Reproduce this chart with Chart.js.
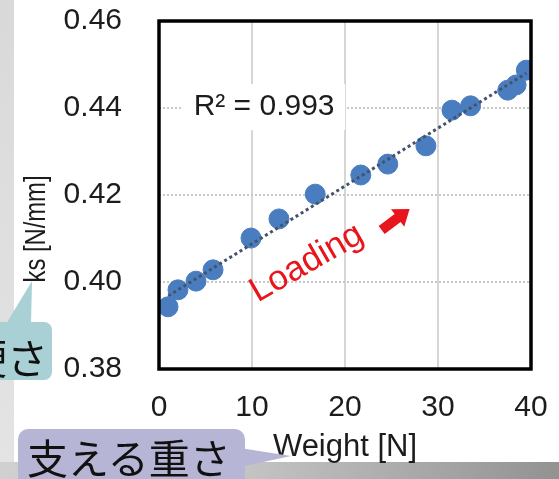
<!DOCTYPE html>
<html>
<head>
<meta charset="utf-8">
<script src="https://cdn.jsdelivr.net/npm/chart.js@4.4.0/dist/chart.umd.min.js"></script>
<style>
  html, body { margin: 0; padding: 0; width: 559px; height: 479px; overflow: hidden; background: #fff; }
  #wrap { position: relative; width: 559px; height: 479px; }
  .strip { position: absolute; left: 0; top: 0; width: 14px; height: 479px; background: linear-gradient(#d9d9d9, #e4e4e4); }
  .bar { position: absolute; left: 0; top: 462px; width: 559px; height: 17px; background: linear-gradient(to right, #d0d0d0, #c3c3c3 45%, #929292); }
  #chart { position: absolute; left: 0; top: 0; }
  .bubble { position: absolute; font-family: "Noto Sans CJK JP", sans-serif; font-size: 41px; line-height: 41px; color: #111; white-space: nowrap; }
  svg.ptr { position: absolute; left: 0; top: 0; }
</style>
</head>
<body>
<div id="wrap">
  <div class="strip"></div>
  <div class="bar"></div>
  <canvas id="chart" width="559" height="479"></canvas>
  <svg class="ptr" width="559" height="479">
    <polygon points="240,448 291,456 240,467" fill="#b6b5d6"/>
    <polygon points="6,324 32,281 31,324" fill="#a9d1d5"/>
  </svg>
  <div class="bubble" style="left:18px; top:429px; width:227px; height:60px; border-radius:10px; background:#b6b5d6;">
    <span style="position:absolute; left:9px; top:7px;">支える重さ</span>
  </div>
  <div class="bubble" style="left:-20px; top:322px; width:72px; height:58px; border-radius:8px; background:#a9d1d5; overflow:hidden;">
    <span style="position:absolute; right:4px; top:14px;">硬さ</span>
  </div>
</div>
<script>
// measured points
const weight = [0.97, 2.04, 3.98, 5.81, 9.89, 12.9, 16.8, 21.7, 24.6, 28.7, 31.5, 33.5, 37.5, 38.4, 39.5];
const ks = [0.3943, 0.3982, 0.4002, 0.4028, 0.4101, 0.4145, 0.4202, 0.4246, 0.4271, 0.4313, 0.4395, 0.4405, 0.4441, 0.4453, 0.4487];

// linear trendline ends
const trendWeight = [1, 39.5];
const trendKs = [0.3968, 0.4480];

const xTicks = [0, 10, 20, 30, 40];
const xTickLabels = ['0', '10', '20', '30', '40'];
const yTicks = [0.38, 0.40, 0.42, 0.44, 0.46];
const yTickLabels = ['0.38', '0.40', '0.42', '0.44', '0.46'];

const xTitle = 'Weight [N]';
const yTitle = 'ks [N/mm]';
const r2Label = 'R² = 0.993';
const loadingLabel = 'Loading';

const font = '"Liberation Sans", Arial, sans-serif';
const clear = 'rgba(0,0,0,0)';

const extras = {
  id: 'extras',
  beforeDatasetsDraw(chart) {
    const { ctx, scales: { x, y } } = chart;
    const cx = x.getPixelForValue(11.3), cy = y.getPixelForValue(0.4402);
    ctx.save();
    ctx.fillStyle = '#fff';
    ctx.fillRect(cx - 81, cy - 23, 162, 46);
    ctx.fillStyle = '#1c1c1c';
    ctx.font = '30px ' + font;
    ctx.textAlign = 'center';
    ctx.textBaseline = 'middle';
    ctx.fillText(r2Label, cx, cy);
    ctx.restore();
  },
  afterDraw(chart) {
    const { ctx, chartArea: a, scales: { x, y } } = chart;
    ctx.save();
    // plot frame
    ctx.strokeStyle = '#000';
    ctx.lineWidth = 3.5;
    ctx.strokeRect(a.left, a.top, a.right - a.left, a.bottom - a.top);

    // Loading + arrow
    ctx.fillStyle = '#e8151c';
    ctx.save();
    ctx.translate(x.getPixelForValue(15.9), y.getPixelForValue(0.4043));
    ctx.rotate(-30 * Math.PI / 180);
    ctx.font = '35px ' + font;
    ctx.textAlign = 'center';
    ctx.textBaseline = 'middle';
    ctx.fillText(loadingLabel, 0, 0);
    ctx.restore();

    ctx.save();
    ctx.translate(x.getPixelForValue(25.4), y.getPixelForValue(0.4143));
    ctx.rotate(-37 * Math.PI / 180);
    ctx.beginPath();
    ctx.moveTo(-17, -5);
    ctx.lineTo(3, -5);
    ctx.lineTo(3, -11);
    ctx.lineTo(18, 0);
    ctx.lineTo(3, 11);
    ctx.lineTo(3, 5);
    ctx.lineTo(-17, 5);
    ctx.closePath();
    ctx.fill();
    ctx.restore();

    // y axis title
    ctx.save();
    ctx.translate(37, 229);
    ctx.rotate(-Math.PI / 2);
    ctx.scale(0.82, 1);
    ctx.fillStyle = '#1c1c1c';
    ctx.font = '29px ' + font;
    ctx.textAlign = 'center';
    ctx.textBaseline = 'middle';
    ctx.fillText(yTitle, 0, 0);
    ctx.restore();
    ctx.restore();
  }
};

new Chart(document.getElementById('chart'), {
  type: 'scatter',
  data: {
    datasets: [
      {
        type: 'line',
        data: trendWeight.map((w, i) => ({ x: w, y: trendKs[i] })),
        borderColor: '#42536b',
        borderWidth: 3,
        borderDash: [3, 3],
        pointRadius: 0,
        fill: false,
        order: 0
      },
      {
        data: weight.map((w, i) => ({ x: w, y: ks[i] })),
        backgroundColor: '#4a7dc0',
        borderColor: '#4a7dc0',
        borderWidth: 1,
        pointRadius: 10,
        order: 1
      }
    ]
  },
  options: {
    responsive: false,
    animation: false,
    devicePixelRatio: 1,
    layout: { padding: { left: 0, right: 28, top: 21, bottom: 0 } },
    plugins: { legend: { display: false }, tooltip: { enabled: false } },
    scales: {
      x: {
        type: 'linear',
        min: 0, max: 40,
        afterBuildTicks: s => { s.ticks = xTicks.map(v => ({ value: v })); },
        afterFit: s => { s.height = 110; },
        ticks: {
          callback: (v, i) => xTickLabels[i],
          padding: 0,
          maxRotation: 0,
          color: '#1c1c1c',
          font: { family: font, size: 30 }
        },
        grid: { color: '#d6d6d6', lineWidth: 2, drawTicks: true, tickLength: 21, tickColor: clear },
        border: { display: false },
        title: {
          display: true,
          text: xTitle,
          color: '#1c1c1c',
          font: { family: font, size: 31 },
          padding: { top: 0, bottom: 13 }
        }
      },
      y: {
        min: 0.38, max: 0.46,
        afterBuildTicks: s => { s.ticks = yTicks.map(v => ({ value: v })); },
        afterFit: s => { s.width = 159; },
        ticks: {
          callback: (v, i) => yTickLabels[i],
          padding: 0,
          color: '#1c1c1c',
          font: { family: font, size: 30 }
        },
        grid: { color: '#c8c8c8', lineWidth: 2, drawTicks: true, tickLength: 37, tickColor: clear },
        border: { display: false, dash: [2, 2] }
      }
    }
  },
  plugins: [extras]
});
</script>
</body>
</html>
